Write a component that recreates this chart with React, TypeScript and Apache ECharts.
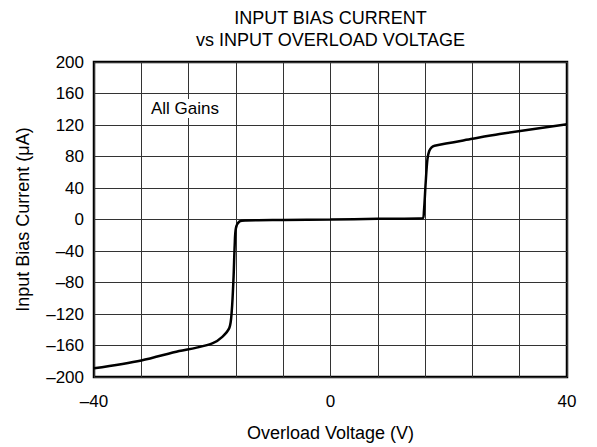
import React, { useEffect, useRef } from "react";
import * as echarts from "echarts";

const titleLines = ["INPUT BIAS CURRENT", "vs INPUT OVERLOAD VOLTAGE"];
const xAxisName = "Overload Voltage (V)";
const yAxisName = "Input Bias Current (μA)";
const annotation = "All Gains";
const xShownTicks = [-40, 0, 40];

const overloadVoltage = [
  -40, -32, -25.6, -22.8, -19.9, -18.3, -17.1, -16.7, -16.4, -16.2, -16.0, -15.4, -14.3,
  -8, 0, 8, 15.6, 15.8, 16.1, 16.4, 16.7, 17.1, 17.6, 24, 28.6, 40,
];
const biasCurrent = [
  -189, -179, -167, -163, -157, -149, -137.5, -116, -74, -32, -11, -2.5, -1.2,
  -0.6, 0, 0.8, 1.5, 10, 47, 77, 87, 91.7, 93.7, 102.5, 108.5, 121,
];

const fmt = (v: number) => (v < 0 ? "\u2013" + Math.abs(v) : String(v));

export default function App() {
  const ref = useRef<HTMLDivElement>(null);
  useEffect(() => {
    if (!ref.current) return;
    const chart = echarts.init(ref.current, undefined, { renderer: "svg" });
    const font = "Liberation Sans, Arial, sans-serif";
    const left = 94, right = 30, top = 62, bottom = 68;
    const cx = left + (597 - left - right) / 2;
    chart.setOption({
      animation: false,
      backgroundColor: "#ffffff",
      grid: { left, right, top, bottom, show: true, borderColor: "#000", borderWidth: 2.5, backgroundColor: "transparent" },
      xAxis: {
        type: "value",
        min: -40,
        max: 40,
        interval: 8,
        axisLine: { show: false },
        axisTick: { show: false },
        splitLine: { show: true, lineStyle: { color: "#333", width: 1 } },
        axisLabel: {
          margin: 16,
          fontFamily: font,
          fontSize: 17,
          color: "#000",
          formatter: (v: number) => (xShownTicks.includes(v) ? fmt(v) : ""),
        },
        name: xAxisName,
        nameLocation: "middle",
        nameGap: 47,
        nameTextStyle: { fontFamily: font, fontSize: 18, color: "#000", verticalAlign: "top" },
      },
      yAxis: {
        type: "value",
        min: -200,
        max: 200,
        interval: 40,
        axisLine: { show: false },
        axisTick: { show: false },
        splitLine: { show: true, lineStyle: { color: "#333", width: 1 } },
        axisLabel: { margin: 10, fontFamily: font, fontSize: 17, color: "#000", formatter: fmt },
        name: yAxisName,
        nameLocation: "middle",
        nameGap: 62,
        nameTextStyle: { fontFamily: font, fontSize: 18, color: "#000" },
      },
      graphic: [
        {
          type: "text",
          x: cx,
          y: 7,
          style: {
            text: titleLines.join("\n"),
            font: `18px ${font}`,
            fill: "#000",
            textAlign: "center",
            lineHeight: 22,
          },
        },
        {
          type: "text",
          x: 148,
          y: 99,
          z: 10,
          style: {
            text: annotation,
            font: `17px ${font}`,
            fill: "#000",
            backgroundColor: "#fff",
            padding: [1, 3],
          },
        },
      ],
      series: [
        {
          type: "line",
          data: overloadVoltage.map((x, i) => [x, biasCurrent[i]]),
          showSymbol: false,
          smooth: 0.3,
          lineStyle: { color: "#000", width: 2.5 },
          z: 5,
        },
      ],
    });
    return () => chart.dispose();
  }, []);
  return <div ref={ref} style={{ position: "absolute", left: 0, top: 0, width: 597, height: 447 }} />;
}
